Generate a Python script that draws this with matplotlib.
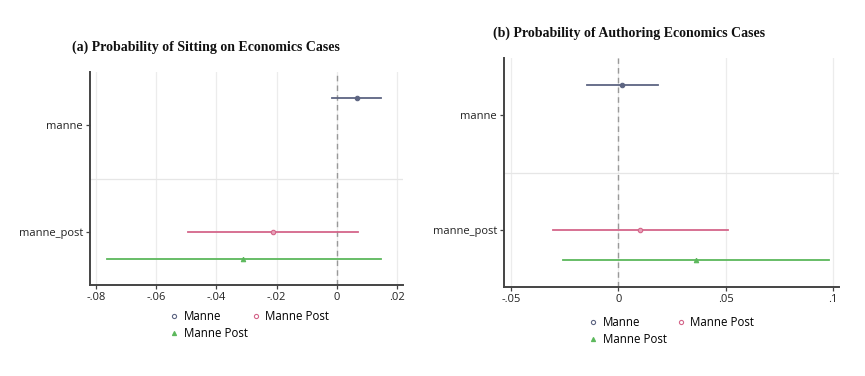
import matplotlib
matplotlib.use("Agg")
import matplotlib.pyplot as plt
from matplotlib.lines import Line2D

# Data
categories = ["manne", "manne_post"]
series_names = ["Manne", "Manne Post", "Manne Post"]
series_cat = [0, 1, 1]              # category index of each series
series_offset = [-0.26, 0.0, 0.26]  # vertical offset within category

# Panel (a): Sitting on Economics Cases
a_point = [0.0066, -0.0213, -0.0310]
a_low = [-0.0017, -0.0495, -0.0764]
a_high = [0.0146, 0.0070, 0.0146]
a_ticks = [-0.08, -0.06, -0.04, -0.02, 0, 0.02]
a_ticklabels = ["-.08", "-.06", "-.04", "-.02", "0", ".02"]

# Panel (b): Authoring Economics Cases
b_point = [0.0019, 0.0102, 0.0363]
b_low = [-0.0144, -0.0303, -0.0256]
b_high = [0.0186, 0.0512, 0.0983]
b_ticks = [-0.05, 0, 0.05, 0.1]
b_ticklabels = ["-.05", "0", ".05", ".1"]

colors = ["#5d6582", "#d4668a", "#5cb85c"]
markers = ["o", "o", "^"]

sans = ["Open Sans", "DejaVu Sans"]
serif = ["Liberation Serif", "DejaVu Serif"]

fig = plt.figure(figsize=(8.65, 3.76), dpi=100)

def panel(rect, title, title_xy, pt, lo, hi, ticks, ticklabels, xlim, legend_xy, colsp):
    ax = fig.add_axes(rect)
    for i in range(3):
        y = series_cat[i] + 1 + series_offset[i]
        ax.plot([lo[i], hi[i]], [y, y], color=colors[i], lw=1.3, zorder=3)
        ax.plot([pt[i]], [y], marker=markers[i], color=colors[i], ms=3.2,
                markerfacecolor=colors[i] if i != 1 else "#e8a0b8",
                markeredgewidth=0.8, zorder=4)
    ax.axvline(0, color="#999999", lw=1.0, ls=(0, (4, 3)), zorder=2)
    for t in ticks:
        ax.axvline(t, color="#ececec", lw=0.9, zorder=1)
    ax.axhline(1.5, color="#e6e6e6", lw=0.9, zorder=1)
    ax.set_xlim(*xlim)
    ax.set_ylim(2.5, 0.5)
    ax.set_yticks([1, 2])
    ax.set_yticklabels(categories, family=sans, fontsize=8, color="#222222")
    ax.set_xticks(ticks)
    ax.set_xticklabels(ticklabels, family=sans, fontsize=8, color="#222222")
    for s in ["top", "right"]:
        ax.spines[s].set_visible(False)
    for s in ["left", "bottom"]:
        ax.spines[s].set_color("#444444")
        ax.spines[s].set_linewidth(1.4)
    ax.tick_params(axis="both", length=3, width=0.9, color="#444444", pad=2)
    fig.text(title_xy[0], title_xy[1], title, ha="center", va="center",
             family=serif, fontweight="bold", fontsize=10, color="#111111")
    handles = [Line2D([], [], ls="none", marker=markers[i], color=colors[i], ms=3,
                      markerfacecolor="none" if i < 2 else colors[i], markeredgewidth=0.8)
               for i in range(3)]
    order = [0, 2, 1]
    fig.legend([handles[i] for i in order], [series_names[i] for i in order],
               loc="upper left", bbox_to_anchor=legend_xy, ncol=2, frameon=False,
               prop={"family": sans, "size": 8.3}, handlelength=0.6,
               handletextpad=0.5, columnspacing=colsp, labelspacing=0.35,
               borderpad=0, borderaxespad=0)
    return ax

W, H = 865, 376
panel([90 / W, 1 - 285 / H, (403 - 90) / W, (285 - 72) / H],
      "(a) Probability of Sitting on Economics Cases", (206 / W, 1 - 47 / H),
      a_point, a_low, a_high, a_ticks, a_ticklabels, (-0.082, 0.022),
      (171 / W, 1 - 310 / H), 0.4)
panel([504 / W, 1 - 287 / H, (839 - 504) / W, (287 - 58) / H],
      "(b) Probability of Authoring Economics Cases", (629 / W, 1 - 33 / H),
      b_point, b_low, b_high, b_ticks, b_ticklabels, (-0.0533, 0.1028),
      (590 / W, 1 - 316 / H), 0.9)

fig.savefig("out.png", dpi=100)
